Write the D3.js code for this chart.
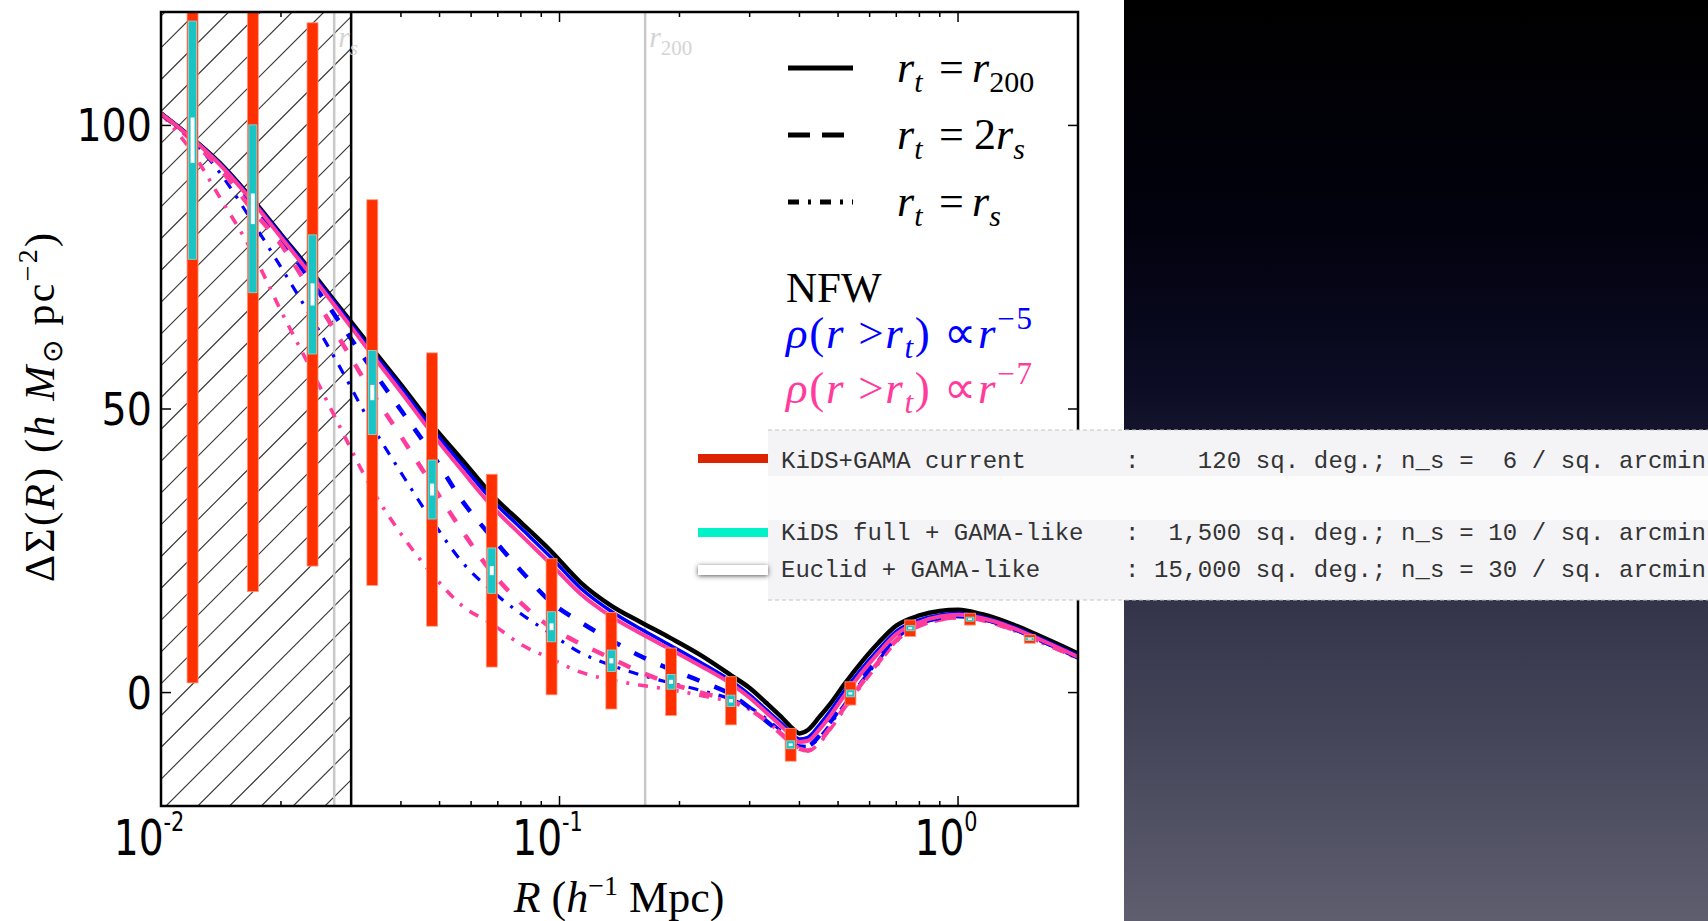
<!DOCTYPE html>
<html><head><meta charset="utf-8">
<script src="https://cdn.jsdelivr.net/npm/d3@7"></script>
<style>html,body{margin:0;padding:0;background:#fff;overflow:hidden}</style>
</head><body>
<svg id="c" width="1708" height="921" xmlns="http://www.w3.org/2000/svg"></svg>
<script>
// ---------------- data ----------------
const radii = [0.010,0.012,0.014,0.017,0.020,0.024,0.028,0.034,0.040,0.048,0.057,0.068,0.080,0.095,0.113,0.135,0.160,0.190,0.226,0.270,0.300,0.330,0.360,0.380,0.400,0.420,0.450,0.480,0.520,0.570,0.630,0.700,0.800,0.900,1.000,1.150,1.350,1.600,2.000];
const nfwR200   = [102.1,97.7,93.5,86.9,80.8,74.0,68.0,60.5,54.3,47.1,41.0,34.7,30.0,25.0,19.4,15.3,12.4,9.6,6.6,3.0,0.8,-1.8,-4.3,-6.0,-7.2,-6.6,-4.2,-1.8,1.6,5.2,8.7,11.8,13.6,14.4,14.6,13.8,12.2,10.0,6.9];
const p5R200    = [102.1,97.7,93.4,86.8,80.7,73.8,67.7,60.0,53.8,46.4,40.1,33.8,29.0,23.9,18.4,14.3,11.2,8.3,5.3,2.0,-0.4,-3.0,-5.4,-7.0,-8.2,-7.9,-5.6,-3.1,0.4,4.0,7.5,10.8,12.8,13.7,14.0,13.3,11.8,9.6,6.5];
const p7R200    = [102.1,97.6,93.2,86.5,80.3,73.3,67.2,59.4,53.0,45.6,39.1,32.7,27.8,22.7,17.4,13.4,10.4,7.6,4.7,1.5,-0.9,-3.5,-5.9,-7.5,-8.7,-8.5,-6.4,-3.9,-0.4,3.3,6.9,10.3,12.4,13.4,13.7,13.1,11.6,9.4,6.3];
const p5TwoRs   = [102.1,97.5,93.0,86.2,79.8,72.2,65.4,56.8,49.8,42.0,33.8,27.2,21.5,16.0,12.4,9.2,6.4,4.1,2.0,-0.4,-2.7,-5.0,-7.2,-8.5,-9.5,-9.4,-7.5,-5.0,-1.5,2.2,6.0,9.8,12.2,13.2,13.5,13.0,11.5,9.3,6.2];
const p7TwoRs   = [102.1,97.2,92.5,85.0,79.0,70.3,62.5,52.7,45.2,36.5,28.5,21.0,15.8,11.5,8.6,6.0,3.6,1.6,0.0,-1.5,-3.0,-5.0,-7.3,-8.8,-9.9,-10.2,-8.6,-6.0,-2.5,1.4,5.3,9.2,11.8,12.9,13.3,12.8,11.3,9.1,6.1];
const p5Rs      = [102.1,97.3,91.8,82.9,75.0,65.8,57.6,46.8,38.8,30.2,23.0,17.8,13.9,10.4,7.0,4.8,3.1,1.7,0.4,-1.2,-2.6,-4.6,-6.8,-8.3,-9.4,-9.5,-7.8,-5.4,-2.0,1.8,5.6,9.5,12.0,13.1,13.4,12.9,11.4,9.2,6.1];
const p7Rs      = [102.1,95.2,87.5,77.5,67.3,56.5,47.1,35.6,28.0,20.8,15.3,12.0,8.5,6.0,3.6,2.2,1.3,0.5,-0.5,-1.7,-3.0,-5.0,-7.2,-8.7,-9.8,-10.3,-8.8,-6.3,-2.8,1.1,5.0,9.0,11.7,12.8,13.2,12.7,11.2,9.0,6.0];

const binR        = [0.0120,0.0170,0.0240,0.0339,0.0479,0.0676,0.0955,0.1349,0.1905,0.2692,0.3802,0.5370,0.7586,1.0715,1.5136];
const binCenter   = [97.4,85.3,70.2,52.9,35.8,21.5,11.6,5.6,1.9,-1.45,-9.2,-0.15,11.35,12.95,9.45];
const errCurrent  = [95.7,67.5,47.9,34.0,24.1,17.0,12.0,8.5,5.95,4.25,2.9,2.05,1.45,1.05,0.75];
const errKiDSFull = [21.0,14.8,10.5,7.4,5.2,4.0,2.65,1.9,1.3,1.0,0.7,0.6,0.45,0.35,0.25];
const errEuclid   = [4.0,2.7,1.95,1.35,1.05,0.8,0.6,0.45,0.35,0.3,0.25,0.2,0.18,0.15,0.12];

const rScale = 0.0272, r200 = 0.164, rInner = 0.03;
const yTickValues = [0,50,100];
const xMajorTicks = [0.01,0.1,1];
const xTickExps   = ["-2","-1","0"];
const surveyNames   = ["KiDS+GAMA current","KiDS full + GAMA-like","Euclid + GAMA-like"];
const surveyDetails = [":    120 sq. deg.; n_s =  6 / sq. arcmin",":  1,500 sq. deg.; n_s = 10 / sq. arcmin",": 15,000 sq. deg.; n_s = 30 / sq. arcmin"];

// ---------------- layout ----------------
const m = {l:161, r:1078, t:12, b:806};
const x = d3.scaleLog().domain([0.01,2]).range([m.l,m.r]);
const y = d3.scaleLinear().domain([-20,120]).range([m.b,m.t]);
const svg = d3.select("#c");
const defs = svg.append("defs");

const grad = defs.append("linearGradient").attr("id","bg").attr("x1",0).attr("y1",0).attr("x2",0).attr("y2",1);
[[0,"#000000"],[0.25,"#02020f"],[0.42,"#0c0c25"],[0.65,"#33334a"],[1,"#5e5e6f"]].forEach(s=>grad.append("stop").attr("offset",s[0]).attr("stop-color",s[1]));
defs.append("clipPath").attr("id","plotclip").append("rect").attr("x",m.l).attr("y",m.t).attr("width",m.r-m.l).attr("height",m.b-m.t);
defs.append("clipPath").attr("id","hatchclip").append("rect").attr("x",m.l).attr("y",m.t).attr("width",x(rInner)-m.l).attr("height",m.b-m.t);
const f = defs.append("filter").attr("id","sh").attr("x","-20%").attr("y","-150%").attr("width","140%").attr("height","400%");
f.append("feDropShadow").attr("dx",0).attr("dy",1).attr("stdDeviation",2.5).attr("flood-color","#444").attr("flood-opacity",0.9);

svg.append("rect").attr("width",1708).attr("height",921).attr("fill","#fff");
svg.append("rect").attr("x",1124).attr("y",0).attr("width",584).attr("height",921).attr("fill","url(#bg)");

// hatch region
const hg = svg.append("g").attr("clip-path","url(#hatchclip)");
const hatchC = d3.range(-26,8).map(k=>972+31.8*k);
hg.selectAll("line").data(hatchC).join("line")
  .attr("x1",c=>c-m.b).attr("y1",m.b).attr("x2",c=>c-m.t).attr("y2",m.t)
  .attr("stroke","#333").attr("stroke-width",1.1);

// reference lines
const plot = svg.append("g").attr("clip-path","url(#plotclip)");
plot.selectAll("line.ref").data([rScale,r200]).join("line").attr("class","ref")
  .attr("x1",d=>x(d)).attr("x2",d=>x(d)).attr("y1",m.t).attr("y2",m.b)
  .attr("stroke","#c8c8c8").attr("stroke-width",2.5);
svg.append("line").attr("x1",x(rInner)).attr("x2",x(rInner)).attr("y1",m.t).attr("y2",m.b).attr("stroke","#000").attr("stroke-width",2.5);

// ref labels
const lab = (xx, sub) => {
  const t = svg.append("text").attr("x",xx).attr("y",47).attr("font-family","Liberation Serif, serif").attr("fill","#d4d4d4").attr("font-size",30);
  t.append("tspan").attr("font-style","italic").text("r");
  t.append("tspan").attr("font-size",21).attr("dy",8).attr("font-style", sub==="s"?"italic":"normal").text(sub);
};
lab(x(rScale)+4,"s"); lab(x(r200)+4,"200");

// curves
const blue="#0000ff", pink="#ff3c9b";
const line = d3.line().curve(d3.curveMonotoneX);
const mk = arr => line(arr.map((v,i)=>[x(radii[i]), y(v)]));
const curves = [
  {d:p5Rs,c:blue,w:3.2,dash:"10,9,3,9"},
  {d:p7Rs,c:pink,w:3.6,dash:"10,9,3,9"},
  {d:p5TwoRs,c:blue,w:4.5,dash:"13,16"},
  {d:p7TwoRs,c:pink,w:4.5,dash:"13,16"},
  {d:nfwR200,c:"#000",w:4.5,dash:null},
  {d:p5R200,c:blue,w:3.5,dash:null},
  {d:p7R200,c:pink,w:4,dash:null}
];
plot.selectAll("path.curve").data(curves).join("path").attr("class","curve")
  .attr("d",c=>mk(c.d)).attr("fill","none").attr("stroke",c=>c.c).attr("stroke-width",c=>c.w)
  .attr("stroke-dasharray",c=>c.dash).attr("stroke-linejoin","round");

// error bars
const bars = binR.map((r,i)=>({r, c:binCenter[i], e:[errCurrent[i],errKiDSFull[i],errEuclid[i]]}));
const barStyle = [{w:11,fill:"#ff3000",stroke:"#ff9a86"},{w:8,fill:"#18c4c4",stroke:"#8fe0e0"},{w:4,fill:"#ffffff",stroke:"none"}];
barStyle.forEach((s,k)=>{
  plot.selectAll("rect.b"+k).data(bars).join("rect").attr("class","b"+k)
    .attr("x",d=>x(d.r)-s.w/2).attr("width",s.w)
    .attr("y",d=>y(d.c+d.e[k])).attr("height",d=>y(d.c-d.e[k])-y(d.c+d.e[k]))
    .attr("fill",s.fill).attr("stroke",s.stroke).attr("stroke-width",0.8);
});

// frame & ticks
svg.append("rect").attr("x",m.l).attr("y",m.t).attr("width",m.r-m.l).attr("height",m.b-m.t).attr("fill","none").attr("stroke","#000").attr("stroke-width",2.5);
const minor = [];
[0.01,0.1,1].forEach(dec=>d3.range(2,10).forEach(k=>{const v=dec*k; if(v<=2) minor.push(v);}));
const tk = svg.append("g").attr("stroke","#000").attr("stroke-width",1.5);
xMajorTicks.forEach(v=>{tk.append("line").attr("x1",x(v)).attr("x2",x(v)).attr("y1",m.b).attr("y2",m.b-10);
  tk.append("line").attr("x1",x(v)).attr("x2",x(v)).attr("y1",m.t).attr("y2",m.t+10);});
minor.forEach(v=>{tk.append("line").attr("x1",x(v)).attr("x2",x(v)).attr("y1",m.b).attr("y2",m.b-5);
  tk.append("line").attr("x1",x(v)).attr("x2",x(v)).attr("y1",m.t).attr("y2",m.t+5);});
yTickValues.forEach(v=>{tk.append("line").attr("x1",m.l).attr("x2",m.l+10).attr("y1",y(v)).attr("y2",y(v));
  tk.append("line").attr("x1",m.r).attr("x2",m.r-10).attr("y1",y(v)).attr("y2",y(v));});

// tick labels
yTickValues.forEach(v=>{
  svg.append("g").attr("transform",`translate(152,${y(v)+16}) scale(0.9,1)`)
    .append("text").attr("text-anchor","end").attr("font-family","DejaVu Sans, sans-serif").attr("font-size",44).attr("fill","#000").text(v);
});
xMajorTicks.forEach((v,i)=>{
  const t = svg.append("g").attr("transform",`translate(${x(v)-12},855) scale(0.8,1)`)
    .append("text").attr("text-anchor","middle").attr("font-family","DejaVu Sans, sans-serif").attr("font-size",49).attr("fill","#000");
  t.append("tspan").text("10");
  t.append("tspan").attr("font-size",26).attr("dy",-24).text(xTickExps[i]);
});

// axis titles
const xt = svg.append("text").attr("x",619).attr("y",912).attr("text-anchor","middle").attr("font-family","Liberation Serif, serif").attr("font-size",44).attr("fill","#000");
xt.append("tspan").attr("font-style","italic").text("R");
xt.append("tspan").text(" (");
xt.append("tspan").attr("font-style","italic").text("h");
xt.append("tspan").attr("font-size",28).attr("dy",-17).text("−1");
xt.append("tspan").attr("dy",17).text(" Mpc)");

const yt = svg.append("g").attr("transform","translate(54,408) rotate(-90)").append("text").attr("x",-174)
  .attr("font-family","Liberation Serif, serif").attr("font-size",42).attr("fill","#000")
  .attr("textLength",349).attr("lengthAdjust","spacing");
yt.append("tspan").text("ΔΣ(");
yt.append("tspan").attr("font-style","italic").text("R");
yt.append("tspan").text(")  (");
yt.append("tspan").attr("font-style","italic").text("h  M");
yt.append("tspan").attr("font-size",28).attr("dy",8).text("⊙");
yt.append("tspan").attr("dy",-8).text("  pc");
yt.append("tspan").attr("font-size",28).attr("dy",-17).text("−2");
yt.append("tspan").attr("dy",17).text(")");

// legend: line styles
const leg = svg.append("g");
const legendStyles = [{dash:null,lab:["t","r","200"],yy:68},{dash:"22,12",lab:["t","2r","s"],yy:135},{dash:"11,9,3,9",lab:["t","r","s"],yy:202}];
legendStyles.forEach(s=>{
  leg.append("line").attr("x1",788).attr("x2",853).attr("y1",s.yy).attr("y2",s.yy).attr("stroke","#000").attr("stroke-width",5).attr("stroke-dasharray",s.dash);
  const t = leg.append("text").attr("x",897).attr("y",s.yy+14).attr("font-family","Liberation Serif, serif").attr("font-size",44).attr("fill","#000");
  t.append("tspan").attr("font-style","italic").text("r");
  t.append("tspan").attr("font-style","italic").attr("font-size",30).attr("dy",10).text("t");
  t.append("tspan").attr("x",939).attr("dy",-10).text("=");
  if (s.lab[1]==="2r"){ t.append("tspan").attr("x",974).text("2"); t.append("tspan").attr("font-style","italic").text("r"); }
  else t.append("tspan").attr("x",972).attr("font-style","italic").text("r");
  t.append("tspan").attr("font-size",30).attr("dy",10).attr("font-style",s.lab[2]==="s"?"italic":"normal").text(s.lab[2]);
});
leg.append("text").attr("x",786).attr("y",302).attr("font-family","Liberation Serif, serif").attr("font-size",43).attr("fill","#000").text("NFW");
[[blue,"−5",348],[pink,"−7",403]].forEach(([col,ex,yy])=>{
  const t = leg.append("text").attr("x",786).attr("y",yy).attr("font-family","Liberation Serif, serif").attr("font-size",45).attr("fill",col)
    .attr("textLength",246).attr("lengthAdjust","spacing");
  t.append("tspan").attr("font-style","italic").text("ρ");
  t.append("tspan").text("(");
  t.append("tspan").attr("font-style","italic").text("r");
  t.append("tspan").text(" >");
  t.append("tspan").attr("font-style","italic").text("r");
  t.append("tspan").attr("font-style","italic").attr("font-size",31).attr("dy",10).text("t");
  t.append("tspan").attr("dy",-10).text(") ∝");
  t.append("tspan").attr("font-style","italic").text("r");
  t.append("tspan").attr("font-size",31).attr("dy",-19).text(ex);
});

// overlay survey box
const box = svg.append("g");
box.append("rect").attr("x",768).attr("y",430).attr("width",940).attr("height",170).attr("fill","#f4f4f7");
box.append("rect").attr("x",768).attr("y",476).attr("width",940).attr("height",44).attr("fill","#fdfdfd");
[430,600].forEach(yy=>box.append("line").attr("x1",768).attr("x2",1708).attr("y1",yy).attr("y2",yy).attr("stroke","#c4c4c4").attr("stroke-width",1.2).attr("stroke-dasharray","4,3"));
const swatch = [{fill:"#dd2200",yy:454,f:null},{fill:"#00f2c8",yy:528,f:null},{fill:"#ffffff",yy:565,f:"url(#sh)"}];
const rowBase = [468,540,577];
swatch.forEach((s,i)=>{
  box.append("rect").attr("x",698).attr("y",s.yy).attr("width",70).attr("height",i===2?10:9).attr("fill",s.fill).attr("filter",s.f);
  box.append("text").attr("x",781).attr("y",rowBase[i]).attr("font-family","Liberation Mono, monospace").attr("font-size",24).attr("fill","#333").style("white-space","pre").text(surveyNames[i]);
  box.append("text").attr("x",1125).attr("y",rowBase[i]).attr("font-family","Liberation Mono, monospace").attr("font-size",24).attr("fill","#333").attr("textLength",581).attr("lengthAdjust","spacing").style("white-space","pre").text(surveyDetails[i]);
});
</script>
</body></html>
